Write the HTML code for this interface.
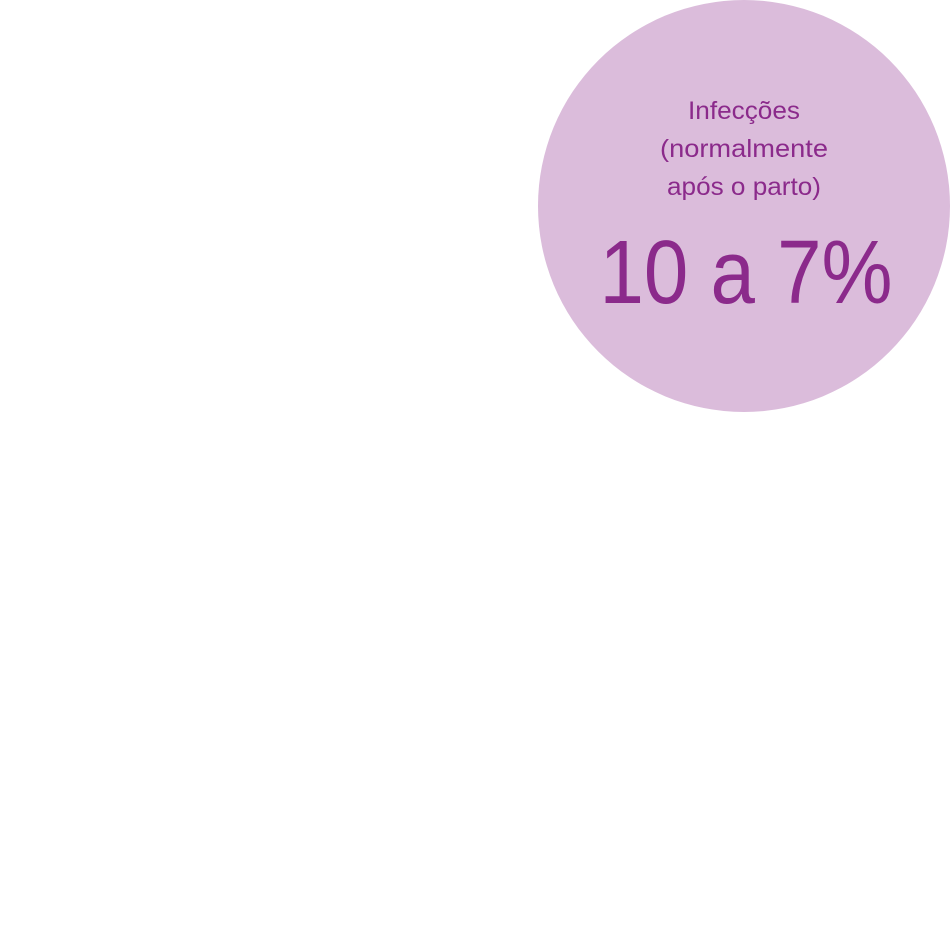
<!DOCTYPE html>
<html>
<head>
<meta charset="utf-8">
<style>
  html, body { margin: 0; padding: 0; background: #ffffff; }
  body { width: 950px; height: 930px; overflow: hidden; }
  svg { display: block; }
  text { font-family: "Liberation Sans", sans-serif; fill: #8b2a8b; }
</style>
</head>
<body>
<svg width="950" height="930" viewBox="0 0 950 930">
  <circle cx="744" cy="206" r="206" fill="#dbbcdb"/>
  <text x="744" y="119" text-anchor="middle" font-size="25" textLength="112" lengthAdjust="spacingAndGlyphs">Infecções</text>
  <text x="744" y="157" text-anchor="middle" font-size="25" textLength="168" lengthAdjust="spacingAndGlyphs">(normalmente</text>
  <text x="744" y="195" text-anchor="middle" font-size="25" textLength="154" lengthAdjust="spacingAndGlyphs">após o parto)</text>
  <text x="746" y="303" text-anchor="middle" font-size="90" textLength="293" lengthAdjust="spacingAndGlyphs">10 a 7%</text>
</svg>
</body>
</html>
